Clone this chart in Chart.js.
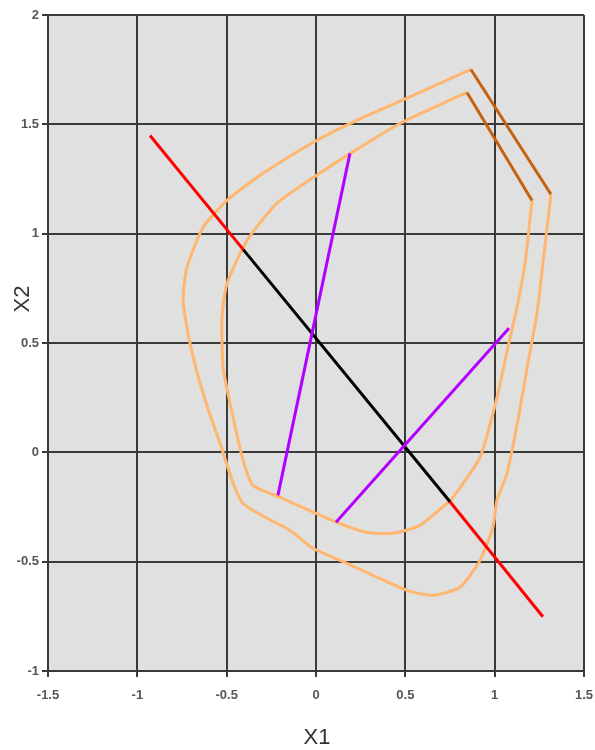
<!DOCTYPE html>
<html lang="en">
<head>
  <meta charset="UTF-8">
  <title>X1 / X2 boundary plot</title>
  <script src="https://cdn.jsdelivr.net/npm/chart.js"></script>
  <style>
    body {
      margin: 0;
      background-color: #fff;
    }

    .chart-box {
      width: 595px;
      height: 750px;
      position: relative;
    }
  </style>
</head>
<body>

  <div class="chart-box">
    <canvas id="boundaryChart"></canvas>
  </div>

  <script>
    // axis ticks
    const xTicks = [-1.5, -1, -0.5, 0, 0.5, 1, 1.5];
    const yTicks = [-1, -0.5, 0, 0.5, 1, 1.5, 2];

    // outer orange boundary
    const outerX = [1.315, 1.270, 1.237, 1.186, 1.130, 1.069, 1.013, 0.990, 0.918, 0.806, 0.655, 0.509, 0.173, -0.017, -0.145, -0.414, -0.537, -0.632, -0.705, -0.744, -0.722, -0.632, -0.498, -0.313, 0.006, 0.229, 0.582, 0.867];
    const outerY = [1.180, 0.864, 0.636, 0.407, 0.146, -0.096, -0.219, -0.343, -0.494, -0.617, -0.654, -0.631, -0.508, -0.439, -0.357, -0.229, 0.041, 0.270, 0.498, 0.695, 0.846, 1.029, 1.152, 1.267, 1.427, 1.518, 1.646, 1.751];

    // inner orange boundary
    const innerX = [1.209, 1.170, 1.125, 1.074, 1.013, 0.918, 0.767, 0.733, 0.582, 0.431, 0.285, 0.118, -0.201, -0.353, -0.408, -0.464, -0.520, -0.526, -0.498, -0.386, -0.218, 0.006, 0.190, 0.470, 0.845];
    const innerY = [1.152, 0.864, 0.663, 0.480, 0.251, -0.023, -0.206, -0.233, -0.334, -0.370, -0.366, -0.320, -0.206, -0.151, -0.037, 0.160, 0.389, 0.617, 0.773, 0.969, 1.140, 1.268, 1.366, 1.504, 1.646];

    // brown edges at the top right
    const brownOuterX = [0.867, 1.315];
    const brownOuterY = [1.751, 1.180];
    const brownInnerX = [0.845, 1.209];
    const brownInnerY = [1.646, 1.152];

    // diagonal line: red ends, black middle
    const redTopX = [-0.929, -0.408];
    const redTopY = [1.449, 0.928];
    const blackX = [-0.408, 0.750];
    const blackY = [0.928, -0.226];
    const redBottomX = [0.750, 1.270];
    const redBottomY = [-0.226, -0.752];

    // purple segments
    const purpleAX = [-0.213, 0.190];
    const purpleAY = [-0.197, 1.367];
    const purpleBX = [0.112, 1.080];
    const purpleBY = [-0.320, 0.567];

    function toPoints(xs, ys) {
      return xs.map((x, i) => ({ x: x, y: ys[i] }));
    }

    function lineSet(xs, ys, color, tension) {
      return {
        data: toPoints(xs, ys),
        showLine: true,
        borderColor: color,
        borderWidth: 3,
        pointRadius: 0,
        tension: tension || 0,
        fill: false
      };
    }

    // grey plot background
    const plotBackground = {
      id: 'plotBackground',
      beforeDraw(chart) {
        const { ctx, chartArea } = chart;
        ctx.save();
        ctx.fillStyle = '#e0e0e0';
        ctx.fillRect(chartArea.left, chartArea.top, chartArea.right - chartArea.left, chartArea.bottom - chartArea.top);
        ctx.restore();
      }
    };

    // axis names
    const axisNames = {
      id: 'axisNames',
      afterDraw(chart) {
        const ctx = chart.ctx;
        ctx.save();
        ctx.fillStyle = '#333';
        ctx.font = '22px "Liberation Sans", Arial, sans-serif';
        ctx.textAlign = 'center';
        ctx.textBaseline = 'middle';
        ctx.fillText('X1', 317, 738);
        ctx.translate(23, 299);
        ctx.rotate(-Math.PI / 2);
        ctx.fillText('X2', 0, 0);
        ctx.restore();
      }
    };

    const gridStyle = {
      color: '#3a3a3a',
      lineWidth: 2,
      tickColor: '#3a3a3a',
      tickLength: 6
    };

    const tickFont = { family: '"Liberation Sans", Arial, sans-serif', size: 13, weight: 'bold' };

    new Chart(document.getElementById('boundaryChart'), {
      type: 'scatter',
      data: {
        datasets: [
          lineSet(purpleAX, purpleAY, '#b400ff'),
          lineSet(purpleBX, purpleBY, '#b400ff'),
          lineSet(redTopX, redTopY, '#ff0000'),
          lineSet(blackX, blackY, '#000000'),
          lineSet(redBottomX, redBottomY, '#ff0000'),
          lineSet(brownOuterX, brownOuterY, '#c4620e'),
          lineSet(brownInnerX, brownInnerY, '#c4620e'),
          lineSet(outerX, outerY, '#ffb66e', 0.2),
          lineSet(innerX, innerY, '#ffb66e', 0.2)
        ]
      },
      options: {
        responsive: true,
        maintainAspectRatio: false,
        animation: false,
        layout: { padding: { top: 15, right: 11, left: 0, bottom: 0 } },
        plugins: {
          legend: { display: false },
          tooltip: { enabled: false }
        },
        scales: {
          x: {
            type: 'linear',
            min: xTicks[0],
            max: xTicks[xTicks.length - 1],
            afterFit: s => {
              s.height = 79;
              s.paddingLeft = 0;
              s.paddingRight = 0;
            },
            afterBuildTicks: s => { s.ticks = xTicks.map(v => ({ value: v })); },
            ticks: {
              color: '#555',
              font: tickFont,
              padding: 11,
              maxRotation: 0,
              callback: v => String(v)
            },
            grid: gridStyle,
            border: { color: '#3a3a3a', width: 2 }
          },
          y: {
            type: 'linear',
            min: yTicks[0],
            max: yTicks[yTicks.length - 1],
            afterFit: s => {
              s.width = 48;
              s.paddingTop = 0;
              s.paddingBottom = 0;
            },
            afterBuildTicks: s => { s.ticks = yTicks.map(v => ({ value: v })); },
            ticks: {
              color: '#555',
              font: tickFont,
              padding: 3,
              callback: v => String(v)
            },
            grid: gridStyle,
            border: { color: '#3a3a3a', width: 2 }
          }
        }
      },
      plugins: [plotBackground, axisNames]
    });
  </script>
</body>
</html>
